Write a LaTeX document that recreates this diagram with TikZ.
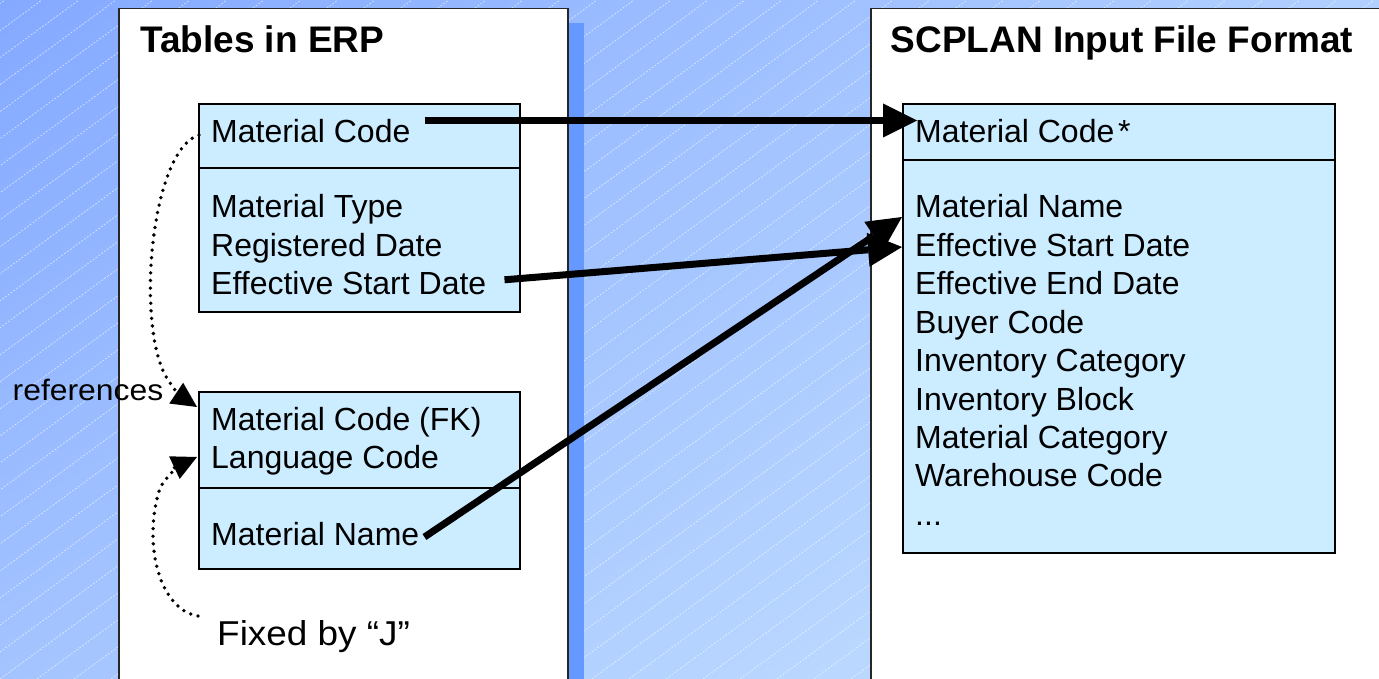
\documentclass[tikz,border=0pt]{standalone}
\usepackage{fontspec}
\setmainfont{Liberation Sans}
\usetikzlibrary{arrows.meta,calc,shadings}

\definecolor{bgUL}{HTML}{84A9FF}
\definecolor{bgUR}{HTML}{B2D0FF}
\definecolor{bgLL}{HTML}{A4C4FF}
\definecolor{bgLR}{HTML}{C8E4FF}
\definecolor{shadowblue}{HTML}{6699FF}
\definecolor{tablefill}{HTML}{CCECFF}

\begin{document}
\begin{tikzpicture}[x=1pt,y=1pt,
  hatch/.style={white, opacity=0.6, line width=0.7pt, dash pattern=on 2pt off 1.5pt},
  panel/.style={draw=black!85, line width=1.4pt, fill=white, anchor=north west, inner sep=0pt, outer sep=0pt},
  tablebox/.style={draw=black, line width=2.6pt, fill=tablefill, anchor=north west, inner sep=0pt, outer sep=0pt},
  divider/.style={draw=black, line width=2.6pt},
  field/.style={font=\fontsize{32}{38.4}\selectfont, inner sep=0pt, anchor=base west},
  heading/.style={font=\bfseries\fontsize{37}{44}\selectfont, inner sep=0pt, anchor=base west},
  maplink/.style={line width=7pt, -{Triangle[length=34pt,width=34pt,line width=0pt]}},
  reflink/.style={line width=3.8pt, line cap=round, dash pattern=on 0pt off 7.6pt,
                  -{Triangle[length=25pt,width=25pt,line width=0pt]}},
]
\useasboundingbox (0,0) rectangle (1379,-679);

% background: soft blue gradient with faint diagonal hatching
\shade[upper left=bgUL, upper right=bgUR, lower left=bgLL, lower right=bgLR]
  (0,0) rectangle (1379,-679);
\begin{scope}
  \clip (0,0) rectangle (1379,-679);
  \foreach \i in {-26,...,38}
    \draw[hatch] (\i*37,-679) -- ++(930,679);
\end{scope}

% panels
\fill[shadowblue] (568,-23) rectangle (584,-700);
\node[panel, minimum width=449pt, minimum height=700pt] (erp) at (119,-8.5) {};
\node[panel, minimum width=540pt, minimum height=700pt] (scplan) at (871,-8.5) {};

\node[heading] (erptitle) at (140,-53) {Tables in ERP};
\node[heading] (scptitle) at (890.5,-53) {SCPLAN Input File Format};

% ERP material table
\node[tablebox, minimum width=321pt, minimum height=208pt] (tabA) at (199,-104) {};
\draw[divider] ($(tabA.north west)+(0,-64)$) -- ($(tabA.north east)+(0,-64)$);
\node[field] (lMC)  at (211,-143)   {Material Code};
\node[field] (lMT)  at (211,-218)   {Material Type};
\node[field] (lRD)  at (211,-256.4) {Registered Date};
\node[field] (lESD) at (211,-294.8) {Effective Start Date};

% ERP material text table
\node[tablebox, minimum width=321pt, minimum height=177pt] (tabB) at (199,-392) {};
\draw[divider] ($(tabB.north west)+(0,-96)$) -- ($(tabB.north east)+(0,-96)$);
\node[field] (lMCFK) at (211,-430) {Material Code (FK)};
\node[field] (lLC)   at (211,-468) {Language Code};
\node[field] (lMN)   at (211,-545) {Material Name};

% SCPLAN record layout
\node[tablebox, minimum width=432pt, minimum height=449pt] (tabC) at (903,-104) {};
\draw[divider] ($(tabC.north west)+(0,-56)$) -- ($(tabC.north east)+(0,-56)$);
\node[field] (rMC) at (915,-143) {Material Code\hspace{0.12em}*};
\foreach \t [count=\k] in {Material Name, Effective Start Date, Effective End Date,
    Buyer Code, Inventory Category, Inventory Block, Material Category, Warehouse Code}
  \node[field] (r\k) at (915,-218-38.4*\k+38.4) {\t};
\node[field] (rmore) at (915,-525.2) {...};

% side labels
\node[inner sep=0pt, anchor=base west] (reflabel) at (12.5,-400.7)
  {\scalebox{1.08}[1]{\fontsize{29.5}{34}\selectfont references}};
\node[inner sep=0pt, anchor=base west] (fixedlabel) at (217,-645)
  {\scalebox{1.07}[1]{\fontsize{34.5}{40}\selectfont Fixed by “J”}};

% field mappings
\draw[maplink] ($(lMC.base east)+(14,22.5)$) -- ($(rMC.base west)+(2,22.5)$);
\draw[maplink] ($(lESD.base east)+(18,15)$) -- ($(r2.base west)+(-13,9.4)$);
\draw[maplink] ($(lMN.base east)+(5,8)$) -- ($(r1.base west)+(-13,1)$);

% dotted reference arrows
\coordinate (refbend) at ($(tabB.north west)+(-31,12)$);
\draw[reflink] ($(tabA.north west)+(0,-31)$) .. controls +(-49,-15) and +(-33,50) .. (refbend)
  .. controls +(4,-6) and +(-18,12) .. ($(tabB.north west)+(-2,-15)$);
\coordinate (fixbend) at ($(tabB.north west)+(-39,-96)$);
\draw[reflink] ($(fixedlabel.base west)+(-19,29)$) .. controls +(-38,6) and +(-18,-57) .. (fixbend)
  .. controls +(5,10) and +(-17,-8) .. ($(tabB.north west)+(-2,-65)$);
\end{tikzpicture}
\end{document}
